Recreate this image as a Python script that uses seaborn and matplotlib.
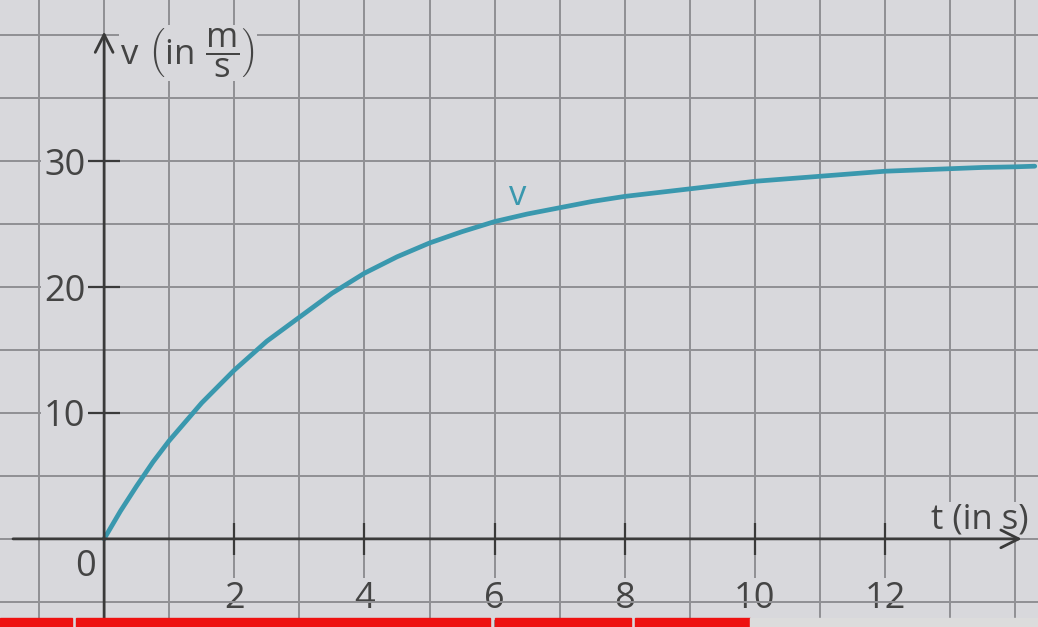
import matplotlib
matplotlib.use("Agg")
import matplotlib.pyplot as plt
import matplotlib.ticker as mtick
from matplotlib.patches import Rectangle
import pandas as pd
import seaborn as sns

# values (t in s, v in m/s)
t_values = [0, 0.25, 0.5, 0.75, 1, 1.5, 2, 2.5, 3, 3.5, 4, 4.5, 5, 5.5, 6, 6.5, 7,
            7.5, 8, 8.5, 9, 9.5, 10, 10.5, 11, 11.5, 12, 12.5, 13, 13.5, 14, 14.3]
v_values = [0, 2.2, 4.2, 6.1, 7.8, 10.8, 13.4, 15.7, 17.6, 19.5, 21.1, 22.4, 23.5, 24.4, 25.2, 25.8, 26.3,
            26.8, 27.2, 27.5, 27.8, 28.1, 28.4, 28.6, 28.8, 29.0, 29.2, 29.3, 29.4, 29.5, 29.55, 29.6]
x_ticks = [2, 4, 6, 8, 10, 12]
y_ticks = [10, 20, 30]

bg = "#d8d8dc"
grid_col = "#909094"
ink = "#3a3a3a"
curve_col = "#3a98ae"

sns.set_theme(style="white")
plt.rcParams["font.family"] = ["Open Sans", "DejaVu Sans"]
plt.rcParams["mathtext.fontset"] = "custom"
plt.rcParams["mathtext.rm"] = "Open Sans"
plt.rcParams["mathtext.it"] = "Open Sans"
plt.rcParams["mathtext.sf"] = "Open Sans"

fig = plt.figure(figsize=(10.38, 6.27), dpi=100)
fig.patch.set_facecolor(bg)
ax = fig.add_axes([0, 0, 1, 1])
ax.set_facecolor(bg)

df = pd.DataFrame({"t": t_values, "v": v_values})
sns.lineplot(data=df, x="t", y="v", color=curve_col, linewidth=3.4, ax=ax, zorder=4)

ax.set_xlim(-1.6, 14.35)
ax.set_ylim(-7.0, 42.8)
ax.set_xlabel("")
ax.set_ylabel("")

# squared paper: grid every 1 s and every 5 m/s
ax.xaxis.set_minor_locator(mtick.MultipleLocator(1))
ax.yaxis.set_minor_locator(mtick.MultipleLocator(5))
ax.set_xticks(x_ticks)
ax.set_yticks(y_ticks)
ax.grid(which="both", color=grid_col, linewidth=1.4)
ax.set_axisbelow(True)

for s in ax.spines.values():
    s.set_visible(False)
ax.spines["left"].set_position(("data", 0))
ax.spines["bottom"].set_position(("data", 0))

ax.tick_params(which="minor", length=0)
ax.tick_params(which="major", bottom=True, left=True, direction="inout", length=23,
               width=1.6, color=ink, labelsize=26, labelcolor="#444444")
ax.tick_params(axis="x", which="major", pad=19)
ax.tick_params(axis="y", which="major", pad=2)
for lab in ax.get_xticklabels() + ax.get_yticklabels():
    lab.set_bbox(dict(facecolor=bg, edgecolor="none", pad=2))

# axes with arrow heads
arrow = dict(arrowstyle="->", lw=2.0, color=ink, mutation_scale=32, shrinkA=0, shrinkB=0)
ax.annotate("", xy=(14.1, 0), xytext=(-1.4, 0), arrowprops=arrow, zorder=5)
ax.annotate("", xy=(0, 40.3), xytext=(0, -7.0), arrowprops=arrow, zorder=5)

ax.text(-0.28, -2.2, "0", fontsize=26, color="#444444", ha="center", va="center")
ax.text(0.25, 38.6, r"v$\ \left(\mathrm{in}\ \dfrac{m}{s}\right)$", fontsize=25, color="#444444",
        ha="left", va="center", bbox=dict(facecolor=bg, edgecolor="none", pad=1))
ax.text(14.2, 1.5, "t (in s)", fontsize=25, color="#444444", ha="right", va="center",
        bbox=dict(facecolor=bg, edgecolor="none", pad=1))
ax.text(6.35, 27.2, "v", fontsize=25, color=curve_col, ha="center", va="center")

# video progress bar along the bottom edge
W, H = 1038, 627
for x0, x1, c in [(0, 72, "#ee1111"), (76, 490, "#ee1111"), (495, 631, "#ee1111"),
                  (635, 750, "#ee1111"), (750, 1038, "#dcdcdc")]:
    fig.add_artist(Rectangle((x0 / W, 0), (x1 - x0) / W, 9 / H,
                             transform=fig.transFigure, color=c, zorder=10))

fig.savefig("out.png", dpi=100, facecolor=bg)
